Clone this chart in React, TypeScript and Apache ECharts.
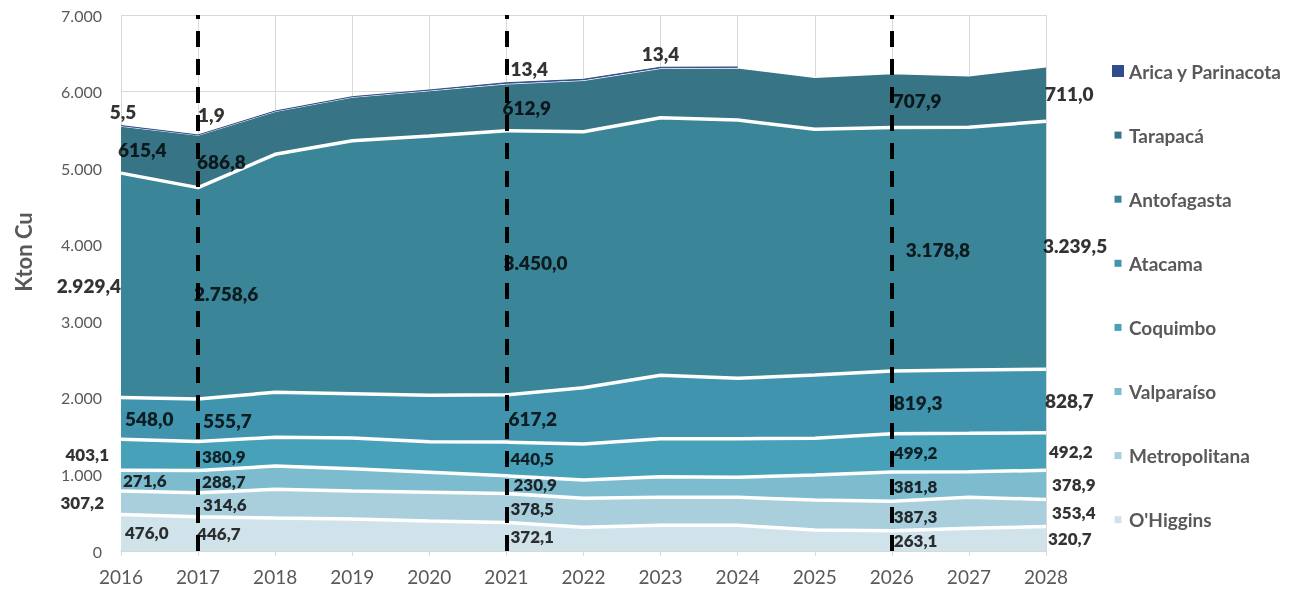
import React, { useEffect, useRef } from 'react';
import * as echarts from 'echarts';

// Copper production by region (kton Cu), 2016–2028
const YEARS = ['2016', '2017', '2018', '2019', '2020', '2021', '2022', '2023', '2024', '2025', '2026', '2027', '2028'];

// Stack order, bottom → top
const REGIONS = ["O'Higgins", 'Metropolitana', 'Valparaíso', 'Coquimbo', 'Atacama', 'Antofagasta', 'Tarapacá', 'Arica y Parinacota'];

const OHIGGINS = [476.0, 446.7, 431, 418, 392, 372.1, 310, 336, 336, 274, 263.1, 296, 320.7];
const METROPOLITANA = [307.2, 314.6, 375, 366, 375, 378.5, 378, 365, 365, 392, 387.3, 405, 353.4];
const VALPARAISO = [271.6, 288.7, 304, 291, 261, 230.9, 239, 269, 261, 327, 381.8, 335, 378.9];
const COQUIMBO = [403.1, 380.9, 375, 401, 399, 440.5, 470, 497, 505, 479, 499.2, 501, 492.2];
const ATACAMA = [548.0, 555.7, 588, 578, 606, 617.2, 736, 828, 788, 827, 819.3, 827, 828.7];
const ANTOFAGASTA = [2929.4, 2758.6, 3108, 3305, 3387, 3450.0, 3343, 3364, 3374, 3208, 3178.8, 3169, 3239.5];
const TARAPACA = [615.4, 686.8, 562, 569, 593, 612.9, 671, 645, 682, 679, 707.9, 674, 711.0];
const ARICA: (number | null)[] = [5.5, 1.9, 3, 5, 8, 13.4, 13, 13.4, 10, null, null, null, null];

const SERIES_VALUES = [OHIGGINS, METROPOLITANA, VALPARAISO, COQUIMBO, ATACAMA, ANTOFAGASTA, TARAPACA, ARICA];

const COLORS = ['#D1E3EA', '#A9CEDC', '#7DBBCE', '#47A1B9', '#4194AD', '#3A8598', '#367486', '#2F4C8C'];

// Years marked with a dashed vertical rule
const PHASE_YEARS = ['2017', '2021', '2026'];

// Value labels: [year, region index, text alignment, horizontal nudge in px]
const LABELS: [string, number, string, number][] = [
  ['2016', 0, 'left', 4], ['2016', 1, 'right', -17], ['2016', 2, 'left', 2], ['2016', 3, 'right', -12],
  ['2016', 4, 'left', 4], ['2016', 5, 'right', 0], ['2016', 6, 'left', -3], ['2016', 7, 'center', 2],
  ['2017', 0, 'left', -1], ['2017', 1, 'left', 5], ['2017', 2, 'left', 4], ['2017', 3, 'left', 4],
  ['2017', 4, 'left', 5], ['2017', 5, 'left', -4], ['2017', 6, 'left', -1], ['2017', 7, 'left', 0],
  ['2021', 0, 'left', 4], ['2021', 1, 'left', 4], ['2021', 2, 'left', 7], ['2021', 3, 'left', 4],
  ['2021', 4, 'left', 2], ['2021', 5, 'left', -3], ['2021', 6, 'left', -4], ['2021', 7, 'left', 4],
  ['2023', 7, 'center', 0],
  ['2026', 0, 'left', 2], ['2026', 1, 'left', 2], ['2026', 2, 'left', 2], ['2026', 3, 'left', 2],
  ['2026', 4, 'left', 2], ['2026', 5, 'left', 14], ['2026', 6, 'left', 1],
  ['2028', 0, 'left', 2], ['2028', 1, 'left', 6], ['2028', 2, 'left', 6], ['2028', 3, 'left', 3],
  ['2028', 4, 'left', -1], ['2028', 5, 'left', -3], ['2028', 6, 'left', -1],
];

function fmtThousands(n: string) {
  return n.replace(/\B(?=(\d{3})+(?!\d))/g, '.');
}

function fmt(v: number) {
  const [int, dec] = v.toFixed(1).split('.');
  return fmtThousands(int) + ',' + dec;
}

const SMALL_ICON = 'path://M0,0M12,12M2.5,2.5L9.5,2.5L9.5,9.5L2.5,9.5Z';

export default function App() {
  const ref = useRef<HTMLDivElement>(null);

  useEffect(() => {
    if (!ref.current) return;
    const chart = echarts.init(ref.current, undefined, { renderer: 'svg' });

    const labelData = LABELS.map(([year, r, align, dx]) => {
      const i = YEARS.indexOf(year);
      let below = 0;
      for (let k = 0; k < r; k++) below += (SERIES_VALUES[k][i] as number) || 0;
      const v = SERIES_VALUES[r][i] as number;
      const isTop = r === REGIONS.length - 1;
      const y = isTop ? below + v : below + v / 2;
      return {
        value: [i, y],
        label: {
          formatter: fmt(v),
          align,
          offset: [dx, isTop ? (year === '2017' ? -20 : -14) : 0],
          fontSize: r >= 4 ? 19 : 17,
        },
      };
    });

    const areaSeries = REGIONS.map((name, r) => {
      const isTop = r === REGIONS.length - 1;
      return {
        name,
        type: 'line',
        stack: 'total',
        data: SERIES_VALUES[r],
        symbol: 'none',
        showSymbol: false,
        silent: true,
        z: isTop ? 20 : 12 - r,
        lineStyle: {
          color: isTop ? COLORS[r] : '#FFFFFF',
          width: isTop ? 1 : r === 6 ? 1.5 : 3.5,
        },
        areaStyle: { color: COLORS[r], opacity: 1 },
        itemStyle: { color: COLORS[r] },
        emphasis: { disabled: true },
      };
    });

    const legendData = REGIONS.map((name, r) => ({
      name,
      icon: r === REGIONS.length - 1 ? 'rect' : SMALL_ICON,
      itemStyle: { color: COLORS[r], borderWidth: 0 },
    })).reverse();

    chart.setOption({
      animation: false,
      textStyle: { fontFamily: 'Lato' },
      grid: { left: 121, right: 261, top: 15, bottom: 43 },
      legend: {
        orient: 'vertical',
        left: 1112,
        top: 60,
        padding: 0,
        itemGap: 42.1,
        itemWidth: 12,
        itemHeight: 12,
        selectedMode: false,
        textStyle: { color: '#595959', fontSize: 19, fontWeight: 'bold', lineHeight: 22 },
        data: legendData,
      },
      xAxis: {
        type: 'category',
        boundaryGap: false,
        data: YEARS,
        axisLine: { lineStyle: { color: '#D9D9D9', width: 1.5 } },
        axisTick: { show: true, length: 5, lineStyle: { color: '#D9D9D9' } },
        axisLabel: { color: '#595959', fontSize: 19, margin: 16 },
        splitLine: { show: true, lineStyle: { color: '#D9D9D9' } },
      },
      yAxis: {
        type: 'value',
        min: 0,
        max: 7000,
        interval: 1000,
        axisLine: { show: false },
        axisTick: { show: false },
        axisLabel: {
          color: '#595959',
          fontSize: 16,
          margin: 19,
          formatter: (v: number) => fmtThousands(String(v)),
        },
        splitLine: { lineStyle: { color: '#D9D9D9' } },
      },
      graphic: [
        {
          type: 'text',
          x: 23,
          y: 252,
          rotation: Math.PI / 2,
          style: {
            text: 'Kton Cu',
            fontSize: 22,
            fontWeight: 'bold',
            fontFamily: 'Lato',
            fill: '#595959',
            align: 'center',
            verticalAlign: 'middle',
          },
        },
      ],
      series: [
        ...areaSeries,
        {
          name: 'labels',
          type: 'scatter',
          data: labelData,
          symbolSize: 1,
          silent: true,
          z: 25,
          itemStyle: { color: 'transparent' },
          label: {
            show: true,
            position: 'inside',
            verticalAlign: 'middle',
            color: '#000000',
            fontWeight: 800,
            fontFamily: 'Lato',
          },
          emphasis: { disabled: true },
          markLine: {
            z: 30,
            silent: true,
            symbol: 'none',
            label: { show: false },
            lineStyle: { color: '#000000', width: 4, type: [16, 12] },
            emphasis: { disabled: true },
            data: PHASE_YEARS.map((y) => ({ xAxis: y })),
          },
        },
      ],
    });

    return () => chart.dispose();
  }, []);

  return (
    <div
      ref={ref}
      style={{ position: 'fixed', left: 0, top: 0, width: 1307, height: 594 }}
    />
  );
}
